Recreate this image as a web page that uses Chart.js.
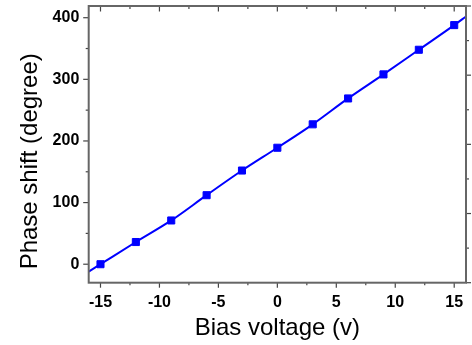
<!DOCTYPE html>
<html>
<head>
<meta charset="utf-8">
<script src="https://cdn.jsdelivr.net/npm/chart.js@4.4.1/dist/chart.umd.min.js"></script>
<style>
  html, body { margin: 0; padding: 0; background: #fff; }
</style>
</head>
<body>
<canvas id="c" width="472" height="345"></canvas>
<script>
// measured points
const biasV = [-15, -12, -9, -6, -3, 0, 3, 6, 9, 12, 15];
const phaseDeg = [0, 36, 71, 112, 152, 189, 227, 269, 308, 348, 388];

// fitted curve, runs out to the axis limits
const fitV = [-16, -15, -12, -9, -6, -3, 0, 3, 6, 9, 12, 15, 16];
const fitDeg = [-12, 0, 36, 71, 112, 152, 189, 227, 269, 308, 348, 388, 402];

// ticks
const xTicks = [-15, -10, -5, 0, 5, 10, 15];
const xMinor = [-12.5, -7.5, -2.5, 2.5, 7.5, 12.5];
const yTicks = [0, 100, 200, 300, 400];
const yMinor = [50, 150, 250, 350];
// right axis belongs to a cropped second scale, only its ticks show
const rMajor = [0, 1, 2, 3, 4];
const rMinor = [0.5, 1.5, 2.5, 3.5];

const FONT = "'Liberation Sans', Arial, sans-serif";
const AXIS = '#666';
const TICK = '#444';

// frame + tick marks (major / minor, in or out like the original)
const frame = {
  id: 'frame',
  afterDatasetsDraw(chart) {
    const { ctx, chartArea: a, scales } = chart;
    const x = scales.x, y = scales.y, y2 = scales.y2;
    ctx.save();
    ctx.strokeStyle = TICK;
    ctx.lineWidth = 1.2;
    const seg = (x1, y1, x2, y2_) => {
      ctx.beginPath(); ctx.moveTo(x1, y1); ctx.lineTo(x2, y2_); ctx.stroke();
    };
    // bottom: outward, top: inward
    xTicks.forEach(v => {
      const p = x.getPixelForValue(v);
      seg(p, a.bottom, p, a.bottom + 5);
      seg(p, a.top, p, a.top + 5.5);
    });
    xMinor.forEach(v => {
      const p = x.getPixelForValue(v);
      seg(p, a.bottom, p, a.bottom + 2.5);
      seg(p, a.top, p, a.top + 3);
    });
    // left: outward
    yTicks.forEach(v => {
      const p = y.getPixelForValue(v);
      seg(a.left - 5.5, p, a.left, p);
    });
    yMinor.forEach(v => {
      const p = y.getPixelForValue(v);
      seg(a.left - 3, p, a.left, p);
    });
    // right: outward, other scale
    rMajor.forEach(v => {
      const p = y2.getPixelForValue(v);
      seg(a.right, p, a.right + 5, p);
    });
    rMinor.forEach(v => {
      const p = y2.getPixelForValue(v);
      seg(a.right, p, a.right + 3, p);
    });
    // box
    ctx.strokeStyle = AXIS;
    ctx.lineWidth = 2;
    ctx.strokeRect(a.left, a.top, a.right - a.left, a.bottom - a.top);

    // y title, sits a bit below the axis middle in the original
    ctx.fillStyle = '#000';
    ctx.font = '24px ' + FONT;
    ctx.textAlign = 'center';
    ctx.textBaseline = 'alphabetic';
    ctx.translate(36.7, 161.3);
    ctx.rotate(-Math.PI / 2);
    ctx.fillText('Phase shift (degree)', 0, 0);
    ctx.restore();
  }
};

const noPad = s => { s.paddingTop = 0; s.paddingBottom = 0; s.paddingLeft = 0; s.paddingRight = 0; };

new Chart(document.getElementById('c'), {
  type: 'scatter',
  data: {
    datasets: [
      {
        label: 'data',
        data: biasV.map((v, i) => ({ x: v, y: phaseDeg[i] })),
        pointStyle: 'rect',
        pointRadius: 5,
        pointBackgroundColor: '#0000ff',
        pointBorderColor: '#0000ff',
        pointBorderWidth: 1,
        showLine: false
      },
      {
        label: 'fit',
        data: fitV.map((v, i) => ({ x: v, y: fitDeg[i] })),
        showLine: true,
        borderColor: '#0000ff',
        borderWidth: 2,
        pointRadius: 0,
        cubicInterpolationMode: 'monotone'
      }
    ]
  },
  options: {
    responsive: false,
    animation: false,
    devicePixelRatio: 1,
    layout: { padding: { top: 4.3, right: 0, bottom: 0, left: 0 } },
    plugins: { legend: { display: false }, tooltip: { enabled: false } },
    scales: {
      x: {
        type: 'linear',
        position: 'bottom',
        min: -16, max: 16,
        afterBuildTicks: s => { s.ticks = xTicks.map(v => ({ value: v })); },
        afterFit: s => { s.height = 62.3; noPad(s); },
        grid: { display: false, drawTicks: false },
        border: { display: false },
        ticks: {
          padding: 10,
          color: '#000',
          font: { family: FONT, size: 16, weight: 'bold' }
        },
        title: {
          display: true,
          text: 'Bias voltage (v)',
          color: '#000',
          font: { family: FONT, size: 24 },
          padding: { top: 0, bottom: 2 }
        }
      },
      y: {
        type: 'linear',
        position: 'left',
        min: -30, max: 419,
        afterBuildTicks: s => { s.ticks = yTicks.map(v => ({ value: v })); },
        afterFit: s => { s.width = 88.7; noPad(s); },
        grid: { display: false, drawTicks: false },
        border: { display: false },
        ticks: {
          padding: 9.4,
          color: '#000',
          font: { family: FONT, size: 16, weight: 'bold' }
        }
      },
      y2: {
        type: 'linear',
        position: 'right',
        min: 0, max: 4,
        afterFit: s => { s.width = 5.3; noPad(s); },
        grid: { display: false, drawTicks: false },
        border: { display: false },
        ticks: { display: false }
      }
    }
  },
  plugins: [frame]
});
</script>
</body>
</html>
